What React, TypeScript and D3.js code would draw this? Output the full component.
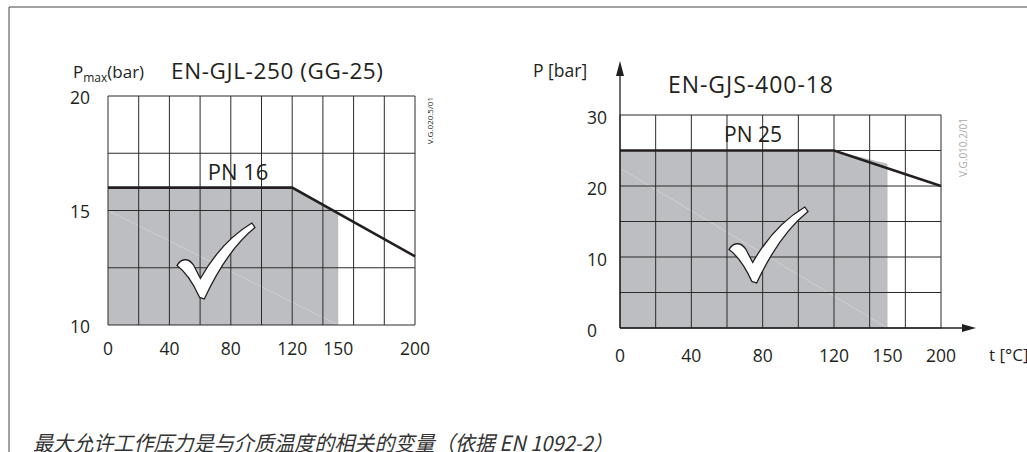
import React from "react";
import * as d3 from "d3";

// --- data ---
const leftTemps = [0, 120, 200];
const leftPressure = [16, 16, 13];
const leftXTicks = [0, 40, 80, 120, 150, 200];
const leftYTicks = [10, 15, 20];
const leftYGrid = [10, 12.5, 15, 17.5, 20];
const leftXGrid = [0, 20, 40, 60, 80, 100, 120, 140, 160, 180, 200];

const rightTemps = [0, 120, 200];
const rightPressure = [25, 25, 20];
const rightXTicks = [0, 40, 80, 120, 150, 200];
const rightYTicks = [0, 10, 20, 30];
const rightYGrid = [0, 5, 10, 15, 20, 25, 30];
const rightColumns = [0, 1, 2, 3, 4, 5, 6, 7, 8, 9];

const allowedMaxTemp = 150;

const INK = "#231f20";
const GRID = "#2b2b2b";
const FILL = "#bdbec1";
const FONT = "'Open Sans', 'Noto Sans', sans-serif";

// check mark in a unit box
const CHECK =
  "M0,0.56 C0.05,0.47 0.14,0.45 0.21,0.55 L0.3,0.73 C0.47,0.42 0.7,0.16 0.96,0 L1,0.06 " +
  "C0.76,0.26 0.53,0.6 0.35,1 L0.29,0.98 C0.21,0.8 0.12,0.65 0,0.56 Z";

function Check({ x, y, w, h }: { x: number; y: number; w: number; h: number }) {
  return (
    <path
      d={CHECK}
      transform={`translate(${x},${y}) scale(${w},${h})`}
      fill="#fff"
      stroke={INK}
      strokeWidth={1.3}
      vectorEffect="non-scaling-stroke"
    />
  );
}

function areaUnder(
  temps: number[],
  press: number[],
  xs: (v: number) => number,
  ys: (v: number) => number,
  yMin: number
) {
  // pressure curve clipped at allowedMaxTemp
  const pAt = d3.scaleLinear().domain(temps).range(press);
  const pts: [number, number][] = temps
    .filter((t) => t < allowedMaxTemp)
    .map((t, i) => [t, press[i]]);
  pts.push([allowedMaxTemp, pAt(allowedMaxTemp)]);
  const a = d3
    .area<[number, number]>()
    .x((d) => xs(d[0]))
    .y0(ys(yMin))
    .y1((d) => ys(d[1]));
  return a(pts) || "";
}

function LeftChart() {
  const x = d3.scaleLinear().domain([0, 200]).range([108, 415]);
  const y = d3.scaleLinear().domain([10, 20]).range([325, 96]);
  const line = d3
    .line<number>()
    .x((_, i) => x(leftTemps[i]))
    .y((d) => y(d));
  return (
    <g>
      <path d={areaUnder(leftTemps, leftPressure, x, y, 10)} fill={FILL} />
      <line x1={x(0)} y1={y(15)} x2={x(150)} y2={y(10)} stroke="#fff" strokeOpacity={0.35} strokeWidth={0.8} />
      {leftXGrid.map((v) => (
        <line key={"gx" + v} x1={x(v)} x2={x(v)} y1={y(10)} y2={y(20)} stroke={GRID} strokeWidth={1} />
      ))}
      {leftYGrid.map((v) => (
        <line key={"gy" + v} x1={x(0)} x2={x(200)} y1={y(v)} y2={y(v)} stroke={GRID} strokeWidth={1} />
      ))}
      <path d={line(leftPressure) || ""} fill="none" stroke={INK} strokeWidth={2.6} />
      <Check x={177} y={223} w={78} h={76} />
      <text x={238} y={180} fontSize={22} textAnchor="middle" fill={INK} fontFamily={FONT}>
        PN 16
      </text>
      {leftYTicks.map((v) => (
        <text key={"ty" + v} x={70} y={y(v) + 1.5} dy="0.35em" fontSize={17.5} fill={INK} fontFamily={FONT}>
          {v}
        </text>
      ))}
      {leftXTicks.map((v) => (
        <text key={"tx" + v} x={x(v)} y={355} fontSize={17.5} textAnchor="middle" fill={INK} fontFamily={FONT}>
          {v}
        </text>
      ))}
      <text x={73} y={78} fontSize={17} fill={INK} fontFamily={FONT}>
        P<tspan fontSize={12} dy={4}>max</tspan>
        <tspan dy={-4}>(bar)</tspan>
      </text>
      <text x={171} y={79} fontSize={22.5} fill={INK} fontFamily={FONT} textLength={212} lengthAdjust="spacing">
        EN-GJL-250 (GG-25)
      </text>
      <text
        transform={`translate(433,97) rotate(-90)`}
        fontSize={8}
        textAnchor="end"
        fill={INK}
        fontFamily={FONT}
      >
        V.G.020.5/01
      </text>
    </g>
  );
}

function RightChart() {
  const col = d3.scaleLinear().domain([0, 9]).range([620, 941]);
  // the printed temperature axis is not uniform: 150 sits at 7.5 columns, 200 at 9
  const x = d3.scaleLinear().domain([0, 150, 200]).range([col(0), col(7.5), col(9)]);
  const y = d3.scaleLinear().domain([0, 30]).range([328, 115]);
  const line = d3
    .line<number>()
    .x((_, i) => x(rightTemps[i]))
    .y((d) => y(d));
  return (
    <g>
      <path d={areaUnder(rightTemps, rightPressure, x, y, 0)} fill={FILL} />
      <line x1={x(0)} y1={y(22.5)} x2={x(150)} y2={y(0)} stroke="#fff" strokeOpacity={0.35} strokeWidth={0.8} />
      {rightColumns.map((c) => (
        <line key={"gx" + c} x1={col(c)} x2={col(c)} y1={y(0)} y2={y(30)} stroke={GRID} strokeWidth={1} />
      ))}
      {rightYGrid.map((v) => (
        <line key={"gy" + v} x1={col(0)} x2={col(9)} y1={y(v)} y2={y(v)} stroke={GRID} strokeWidth={1} />
      ))}
      <path d={line(rightPressure) || ""} fill="none" stroke={INK} strokeWidth={2.4} />
      {/* axes with arrows */}
      <line x1={col(0)} x2={col(0)} y1={y(0)} y2={70} stroke={INK} strokeWidth={1.3} />
      <path d={`M${col(0)},61 L${col(0) - 4},76 L${col(0) + 4},76 Z`} fill={INK} />
      <line x1={col(0)} x2={966} y1={y(0)} y2={y(0)} stroke={INK} strokeWidth={1.3} />
      <path d={`M976,${y(0)} L962,${y(0) - 4} L962,${y(0) + 4} Z`} fill={INK} />
      <Check x={729} y={207} w={79} h={76} />
      <text x={753} y={142} fontSize={21} textAnchor="middle" fill={INK} fontFamily={FONT}>
        PN 25
      </text>
      {rightYTicks.map((v) => (
        <text key={"ty" + v} x={587} y={y(v) + 2.5} dy="0.35em" fontSize={17.5} fill={INK} fontFamily={FONT}>
          {v}
        </text>
      ))}
      {rightXTicks.map((v) => (
        <text key={"tx" + v} x={x(v)} y={362} fontSize={17.5} textAnchor="middle" fill={INK} fontFamily={FONT}>
          {v}
        </text>
      ))}
      <text x={989} y={361} fontSize={17} fill={INK} fontFamily={FONT}>
        t [°C]
      </text>
      <text x={533} y={77} fontSize={17.5} fill={INK} fontFamily={FONT}>
        P [bar]
      </text>
      <text x={668} y={93} fontSize={23} fill={INK} fontFamily={FONT} textLength={165} lengthAdjust="spacing">
        EN-GJS-400-18
      </text>
      <text
        transform={`translate(967,118) rotate(-90)`}
        fontSize={10}
        textAnchor="end"
        fill="#a9a9a9"
        fontFamily={FONT}
      >
        V.G.010.2/01
      </text>
    </g>
  );
}

export default function App() {
  return (
    <svg
      width={1027}
      height={452}
      style={{ position: "absolute", left: 0, top: 0, display: "block", background: "#fff" }}
    >
      <rect x={0} y={0} width={1027} height={452} fill="#fff" />
      <path d="M9,452 L9,7 L1027,7" fill="none" stroke="#444" strokeWidth={1} />
      <LeftChart />
      <RightChart />
      <text
        x={33}
        y={451}
        fontSize={21}
        fontStyle="italic"
        fill="#333"
        fontFamily="'Noto Sans CJK SC', 'Noto Sans', sans-serif"
        textLength={580}
        lengthAdjust="spacingAndGlyphs"
      >
        最大允许工作压力是与介质温度的相关的变量（依据 EN 1092-2）
      </text>
    </svg>
  );
}
